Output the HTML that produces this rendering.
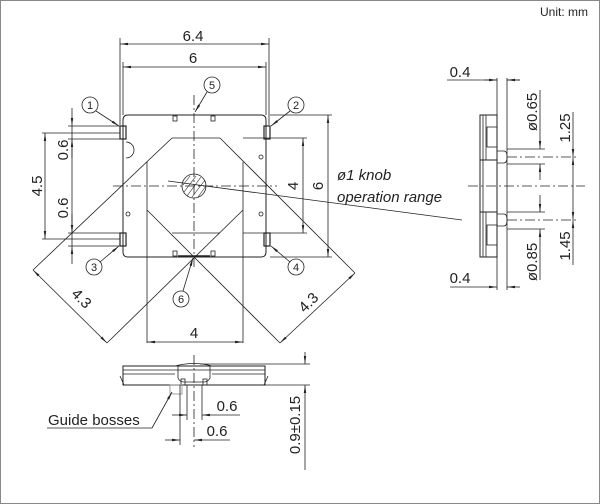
<!DOCTYPE html>
<html><head><style>
html,body{margin:0;padding:0;background:#fff}
svg{display:block}
text{font-family:"Liberation Sans",sans-serif;fill:#222}
</style></head><body>
<svg width="600" height="504" viewBox="0 0 600 504" xmlns="http://www.w3.org/2000/svg">
<defs>
<marker id="a" viewBox="0 0 10 6" refX="10" refY="3" markerWidth="10" markerHeight="6" orient="auto-start-reverse"><path d="M0,1.5L10,3L0,4.5z" fill="#222"/></marker>
</defs>
<rect x="0.5" y="0.5" width="599" height="503" fill="#fff" stroke="#888"/>
<text x="540" y="16" font-size="12">Unit: mm</text>
<g stroke="#222" stroke-width="0.8" fill="none">
<line x1="120" y1="38" x2="120" y2="125"/><line x1="269" y1="38" x2="269" y2="125"/>
<line x1="120" y1="44" x2="269" y2="44" marker-start="url(#a)" marker-end="url(#a)"/>
<line x1="123" y1="62" x2="123" y2="115"/><line x1="266" y1="62" x2="266" y2="115"/>
<line x1="123" y1="67" x2="266" y2="67" marker-start="url(#a)" marker-end="url(#a)"/>
<path d="M128,115 H261 Q266,115 266,120 V252 Q266,257 261,257 H128 Q123,257 123,252 V120 Q123,115 128,115Z" stroke-width="1"/>
<rect x="120" y="126" width="6" height="13" stroke-width="1.2"/>
<rect x="120" y="233" width="6" height="13" stroke-width="1.2"/>
<rect x="264" y="126" width="6" height="13" stroke-width="1.2"/>
<rect x="264" y="233" width="6" height="13" stroke-width="1.2"/>
<path d="M126,142 A8,8 0 0 1 126,158"/>
<rect x="173" y="116" width="4" height="5"/><rect x="211" y="116" width="4" height="5"/>
<rect x="173" y="251" width="4" height="5"/><rect x="211" y="251" width="4" height="5"/>
<line x1="178" y1="256" x2="210" y2="256" stroke-width="1.5"/>
<circle cx="261" cy="157" r="2"/><circle cx="128" cy="214" r="2"/><circle cx="261" cy="214" r="2"/>
<line x1="194" y1="95" x2="194" y2="268" stroke-dasharray="10,3,2,3"/>
<line x1="113" y1="186" x2="277" y2="186" stroke-dasharray="10,3,2,3"/>
<circle cx="194" cy="186" r="12"/>
<g stroke-width="0.6"><line x1="184" y1="192" x2="196" y2="176"/><line x1="187" y1="196" x2="201" y2="177"/><line x1="192" y1="197" x2="205" y2="180"/><line x1="198" y1="197" x2="206" y2="186"/><line x1="183" y1="185" x2="190" y2="176"/></g>
<line x1="168" y1="181" x2="462" y2="220"/>
<line x1="172" y1="138" x2="220" y2="138"/>
<line x1="172" y1="233" x2="220" y2="233"/>
<line x1="147" y1="162" x2="147" y2="343"/>
<line x1="243" y1="162" x2="243" y2="343"/>
<line x1="172" y1="138" x2="33" y2="270"/>
<line x1="220" y1="138" x2="355" y2="273"/>
<line x1="147" y1="210" x2="280" y2="343"/>
<line x1="243" y1="210" x2="107" y2="343"/>
<line x1="33" y1="270" x2="107" y2="343" marker-start="url(#a)" marker-end="url(#a)"/>
<line x1="355" y1="273" x2="280" y2="343" marker-start="url(#a)" marker-end="url(#a)"/>
<line x1="147" y1="342" x2="243" y2="342" marker-start="url(#a)" marker-end="url(#a)"/>
<line x1="243" y1="138" x2="307" y2="138"/><line x1="243" y1="233" x2="307" y2="233"/>
<line x1="303" y1="138" x2="303" y2="233" marker-start="url(#a)" marker-end="url(#a)"/>
<line x1="270" y1="115" x2="332" y2="115"/><line x1="270" y1="257" x2="332" y2="257"/>
<line x1="328" y1="115" x2="328" y2="257" marker-start="url(#a)" marker-end="url(#a)"/>
<line x1="42" y1="133" x2="120" y2="133"/><line x1="42" y1="239" x2="120" y2="239"/>
<line x1="45" y1="133" x2="45" y2="239" marker-start="url(#a)" marker-end="url(#a)"/>
<line x1="68" y1="126" x2="120" y2="126"/><line x1="68" y1="139" x2="120" y2="139"/>
<line x1="68" y1="233" x2="120" y2="233"/><line x1="68" y1="246" x2="120" y2="246"/>
<line x1="72" y1="108" x2="72" y2="126" marker-end="url(#a)"/><line x1="72" y1="158" x2="72" y2="139" marker-end="url(#a)"/>
<line x1="72" y1="214" x2="72" y2="233" marker-end="url(#a)"/><line x1="72" y1="264" x2="72" y2="246" marker-end="url(#a)"/>
<line x1="72" y1="126" x2="72" y2="246"/>
<circle cx="90" cy="105" r="8"/><circle cx="296" cy="105" r="8"/><circle cx="94" cy="267" r="8"/>
<circle cx="296" cy="267" r="8"/><circle cx="212" cy="85" r="8"/><circle cx="181" cy="299" r="8"/>
<line x1="96" y1="111" x2="119" y2="126" marker-end="url(#a)"/>
<line x1="290" y1="111" x2="271" y2="126" marker-end="url(#a)"/>
<line x1="100" y1="262" x2="119" y2="246" marker-end="url(#a)"/>
<line x1="290" y1="262" x2="271" y2="246" marker-end="url(#a)"/>
<line x1="207" y1="92" x2="195" y2="112" marker-end="url(#a)"/>
<line x1="183" y1="291" x2="193" y2="258" marker-end="url(#a)"/>
<line x1="447" y1="80" x2="497" y2="80"/><line x1="507" y1="80" x2="520" y2="80"/>
<line x1="484" y1="80" x2="497" y2="80" marker-end="url(#a)"/><line x1="520" y1="80" x2="507" y2="80" marker-end="url(#a)"/>
<line x1="497" y1="78" x2="497" y2="290"/><line x1="507" y1="78" x2="507" y2="290"/>
<line x1="450" y1="287" x2="497" y2="287" marker-end="url(#a)"/><line x1="520" y1="287" x2="507" y2="287" marker-end="url(#a)"/>
<rect x="480" y="115" width="17" height="142" stroke-width="1"/>
<line x1="483" y1="115" x2="483" y2="257"/><line x1="486" y1="115" x2="486" y2="160"/><line x1="486" y1="212" x2="486" y2="257"/>
<rect x="487" y="127" width="10" height="20"/><rect x="487" y="225" width="10" height="20"/>
<rect x="480" y="160" width="17" height="52" stroke-width="1"/>
<path d="M497,151 H504 Q507,151 507,157 Q507,163 504,163 H497"/>
<path d="M497,214 H504 Q507,214 507,220 Q507,226 504,226 H497"/>
<line x1="468" y1="186" x2="585" y2="186" stroke-dasharray="10,3,2,3"/>
<line x1="507" y1="157" x2="578" y2="157" stroke-dasharray="10,3,2,3"/>
<line x1="507" y1="220" x2="578" y2="220" stroke-dasharray="10,3,2,3"/>
<line x1="507" y1="149" x2="545" y2="149"/><line x1="507" y1="164" x2="545" y2="164"/>
<line x1="507" y1="212" x2="545" y2="212"/><line x1="507" y1="229" x2="545" y2="229"/>
<line x1="540" y1="90" x2="540" y2="149" marker-end="url(#a)"/><line x1="540" y1="180" x2="540" y2="164" marker-end="url(#a)"/>
<line x1="540" y1="195" x2="540" y2="212" marker-end="url(#a)"/><line x1="540" y1="280" x2="540" y2="229" marker-end="url(#a)"/>
<line x1="573" y1="112" x2="573" y2="157" marker-end="url(#a)"/><line x1="573" y1="186" x2="573" y2="157" marker-end="url(#a)"/>
<line x1="573" y1="186" x2="573" y2="220" marker-end="url(#a)"/><line x1="573" y1="265" x2="573" y2="220" marker-end="url(#a)"/>
<rect x="123" y="366" width="142" height="19" stroke-width="1"/>
<line x1="123" y1="370" x2="265" y2="370"/><line x1="123" y1="374" x2="175" y2="374"/><line x1="212" y1="374" x2="265" y2="374"/>
<line x1="120" y1="376" x2="124" y2="385"/><line x1="268" y1="376" x2="264" y2="385"/>
<path d="M175,366 Q194,361 212,366"/>
<path d="M178,366 V378 Q180,382 184,382 H204 Q208,382 210,378 V366"/>
<rect x="181" y="379" width="4" height="6"/><rect x="203" y="379" width="4" height="6"/>
<rect x="170" y="385" width="12" height="9" stroke="#888"/>
<line x1="194" y1="355" x2="194" y2="447" stroke-dasharray="10,3,2,3"/>
<line x1="180" y1="385" x2="180" y2="445"/><line x1="187" y1="385" x2="187" y2="420"/><line x1="202" y1="385" x2="202" y2="420"/>
<line x1="200" y1="364" x2="310" y2="364"/><line x1="265" y1="385" x2="310" y2="385"/>
<line x1="305" y1="352" x2="305" y2="364" marker-end="url(#a)"/><line x1="305" y1="470" x2="305" y2="385" marker-end="url(#a)"/>
<line x1="172" y1="415" x2="187" y2="415" marker-end="url(#a)"/><line x1="240" y1="415" x2="202" y2="415" marker-end="url(#a)"/>
<line x1="165" y1="440" x2="180" y2="440" marker-end="url(#a)"/><line x1="230" y1="440" x2="194" y2="440" marker-end="url(#a)"/>
<line x1="47" y1="428" x2="152" y2="428"/><line x1="152" y1="428" x2="172" y2="392" marker-end="url(#a)"/>
</g>
<g font-size="15">
<text x="193" y="41" text-anchor="middle">6.4</text>
<text x="193" y="63" text-anchor="middle">6</text>
<text x="194" y="338" text-anchor="middle">4</text>
<text transform="translate(298,186) rotate(-90)" text-anchor="middle">4</text>
<text transform="translate(323,186) rotate(-90)" text-anchor="middle">6</text>
<text transform="translate(42,186) rotate(-90)" text-anchor="middle">4.5</text>
<text transform="translate(68,150) rotate(-90)" text-anchor="middle">0.6</text>
<text transform="translate(68,208) rotate(-90)" text-anchor="middle">0.6</text>
<text transform="translate(78,302) rotate(45)" text-anchor="middle">4.3</text>
<text transform="translate(312,306) rotate(-45)" text-anchor="middle">4.3</text>
<text x="337" y="180" font-style="italic">ø1 knob</text>
<text x="337" y="202" font-style="italic">operation range</text>
<text x="460" y="77" text-anchor="middle">0.4</text>
<text x="460" y="283" text-anchor="middle">0.4</text>
<text transform="translate(537,112) rotate(-90)" text-anchor="middle">ø0.65</text>
<text transform="translate(537,262) rotate(-90)" text-anchor="middle">ø0.85</text>
<text transform="translate(570,128) rotate(-90)" text-anchor="middle">1.25</text>
<text transform="translate(570,246) rotate(-90)" text-anchor="middle">1.45</text>
<text transform="translate(300,425) rotate(-90)" text-anchor="middle">0.9±0.15</text>
<text x="48" y="425">Guide bosses</text>
<text x="227" y="411" text-anchor="middle">0.6</text>
<text x="217" y="436" text-anchor="middle">0.6</text>
</g>
<g font-size="11" text-anchor="middle">
<text x="90" y="109">1</text><text x="296" y="109">2</text><text x="94" y="271">3</text>
<text x="296" y="271">4</text><text x="212" y="89">5</text><text x="181" y="303">6</text>
</g>
</svg>
</body></html>
